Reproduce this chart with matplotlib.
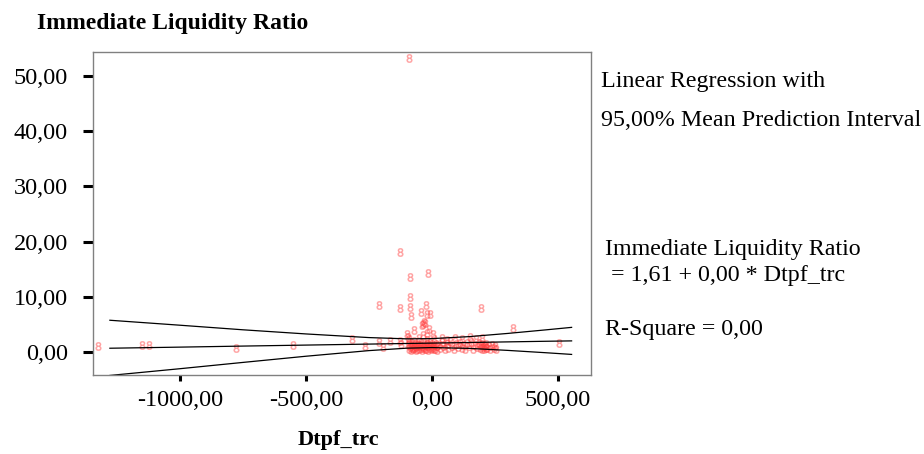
import numpy as np
import matplotlib.pyplot as plt

# scatter: Dtpf_trc vs Immediate Liquidity Ratio
out_x = [-91, -127, -17, -87, -87, -209, -127, -87, -24, 196, -83, -45, -21, -8,
         -37, -32, -11, -21, 323, 5, -37, -100, -97, -319, -209, -167, -127, -123,
         -265, -196, -553, -778, -1149, -1122, -1326, 504, -71, -40, -29]
out_y = [53.2, 18.1, 14.4, 13.5, 9.9, 8.5, 7.9, 8.2, 8.5, 7.9, 6.6, 7.2, 6.8, 6.8,
         5.1, 5.5, 4.1, 3.5, 4.3, 3.3, 3.1, 3.2, 2.8, 2.3, 1.8, 1.9, 2.0, 1.4,
         1.1, 0.85, 1.27, 0.72, 1.27, 1.27, 1.15, 1.7, 4.0, 4.9, 5.3]

clu_x = [-95, -92, -90, -88, -85, -83, -80, -78, -75, -73, -70, -68, -65, -63, -60,
         -58, -55, -53, -50, -48, -45, -43, -40, -38, -35, -33, -30, -28, -25, -23,
         -20, -18, -15, -13, -10, -8, -5, -3, 0, 2, 5, 8, 10, 13, 15, 18, 20,
         25, 30, 38, 45, 50, 58, 65, 72, 80, 88, 95, 102, 110, 118, 125, 132, 140,
         148, 155, 162, 170, 178,
         188, 192, 195, 198, 200, 202, 205, 208, 210, 213, 216, 219,
         225, 232, 238, 245, 250, 255,
         -90, -70, -50, -20, 10, 40, 60, 90, 120, 150, 175, 200]
clu_y = [1.2, 0.6, 1.5, 0.9, 0.4, 1.3, 0.8, 1.6, 0.5, 1.1, 0.7, 1.4, 0.9, 0.4, 1.2,
         0.6, 1.5, 1.0, 0.5, 1.3, 0.8, 1.6, 0.4, 1.1, 0.7, 1.4, 0.9, 0.5, 1.2, 0.6,
         1.5, 1.0, 0.4, 1.3, 0.8, 1.6, 0.5, 1.1, 0.7, 1.4, 0.9, 0.5, 1.2, 0.6, 1.5, 1.0, 0.4,
         1.3, 0.7, 1.8, 1.0, 0.5, 1.4, 0.8, 1.9, 1.1, 0.6, 1.5, 0.9, 1.7, 0.7, 1.2, 0.5, 1.6,
         1.0, 1.8, 0.6, 1.3, 0.9,
         1.6, 0.8, 1.2, 0.5, 1.5, 0.9, 1.3, 0.6, 1.1, 0.8, 1.4, 0.7,
         1.0, 0.6, 1.3, 0.8, 1.1, 0.6,
         2.3, 2.0, 2.5, 2.2, 2.4, 2.6, 2.2, 2.5, 2.3, 2.7, 2.4, 2.6]

# regression line and 95% mean prediction band, read at these x positions
line_x = [-1278, -1000, -750, -500, -250, -100, 0, 150, 300, 450, 554]
fit_y = [0.68, 0.88, 1.07, 1.25, 1.43, 1.54, 1.61, 1.72, 1.83, 1.94, 2.01]
upper_y = [5.75, 4.85, 4.02, 3.27, 2.61, 2.38, 2.42, 2.79, 3.36, 4.00, 4.46]
lower_y = [-4.25, -3.03, -1.89, -0.77, 0.25, 0.69, 0.80, 0.65, 0.29, -0.13, -0.44]

xticks = [-1000, -500, 0, 500]
yticks = [0, 10, 20, 30, 40, 50]

plt.rcParams['font.family'] = ['Liberation Serif', 'DejaVu Serif']

fig = plt.figure(figsize=(9.24, 4.54), dpi=100)
ax = fig.add_axes([93 / 924, 1 - 375 / 454, (591 - 93) / 924, (375 - 52) / 454])

ax.plot(out_x + clu_x, out_y + clu_y, linestyle='none', marker='$8$',
        markersize=6, color='#ff4040', alpha=0.38, markeredgewidth=0.4)

for yy in (fit_y, upper_y, lower_y):
    ax.plot(line_x, yy, color='black', linewidth=0.9)

ax.set_xlim(-1345, 631)
ax.set_ylim(-4.17, 54.35)
ax.set_xticks(xticks)
ax.set_yticks(yticks)
ax.set_xticklabels([f'{v:.2f}'.replace('.', ',') for v in xticks])
ax.set_yticklabels([f'{v:.2f}'.replace('.', ',') for v in yticks])
ax.tick_params(axis='both', labelsize=17.5, width=2.2, length=7, color='black')
ax.tick_params(axis='y', pad=11)
ax.tick_params(axis='x', length=4, pad=7)
for s in ax.spines.values():
    s.set_color('#808080')
    s.set_linewidth(1.0)

fig.text(37 / 924, 1 - 23 / 454, 'Immediate Liquidity Ratio', fontsize=17,
         fontweight='bold', va='center', ha='left')
fig.text(338 / 924, 1 - 440 / 454, 'Dtpf_trc', fontsize=16,
         fontweight='bold', va='center', ha='center')

fig.text(601 / 924, 1 - 82 / 454, 'Linear Regression with', fontsize=17.3, va='center')
fig.text(601 / 924, 1 - 120 / 454, '95,00% Mean Prediction Interval', fontsize=17.3, va='center')
fig.text(605 / 924, 1 - 249 / 454, 'Immediate Liquidity Ratio', fontsize=17.3, va='center')
fig.text(605 / 924, 1 - 276 / 454, ' = 1,61 + 0,00 * Dtpf_trc', fontsize=17.3, va='center')
fig.text(605 / 924, 1 - 330 / 454, 'R-Square = 0,00', fontsize=17.3, va='center')

fig.savefig('out.png', dpi=100)
